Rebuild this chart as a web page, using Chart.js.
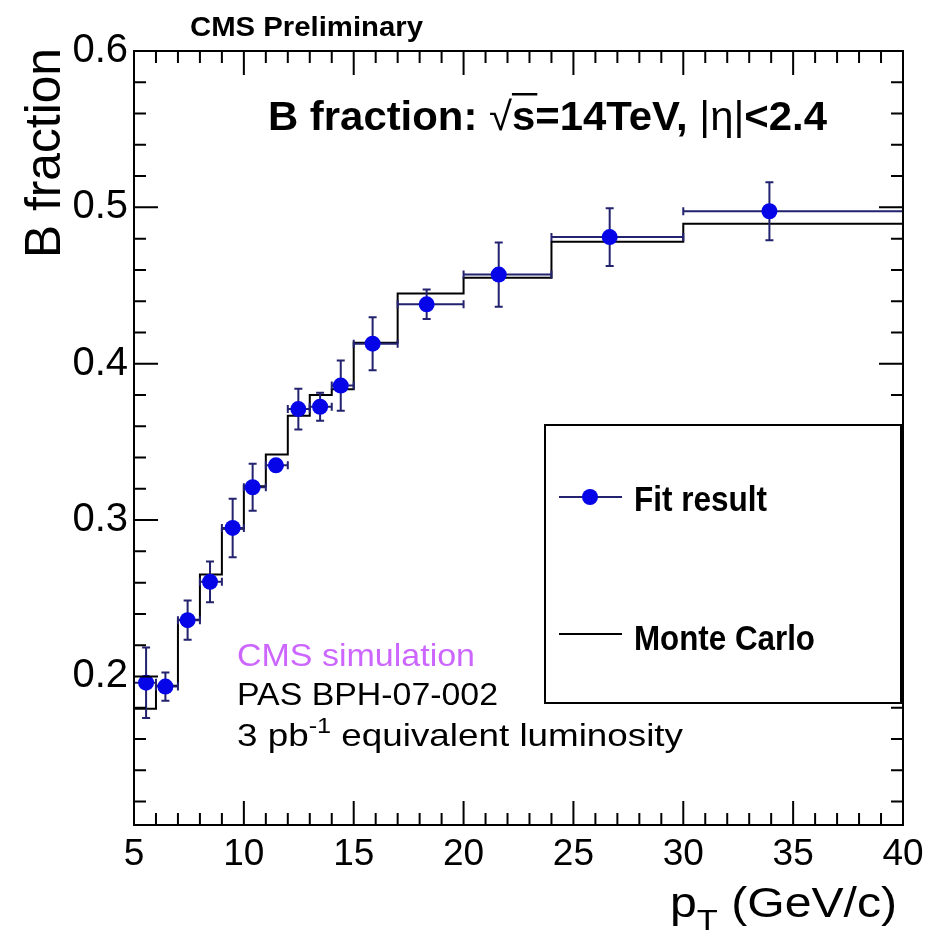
<!DOCTYPE html>
<html>
<head>
<meta charset="utf-8">
<script src="https://cdn.jsdelivr.net/npm/chart.js@4.4.1/dist/chart.umd.min.js"></script>
<style>
  html, body { margin: 0; padding: 0; background: #fff; }
  #plot { display: block; }
</style>
</head>
<body>
<canvas id="plot" width="937" height="940"></canvas>
<script>
// pT bin edges in GeV/c
const binEdges = [5, 6, 7, 8, 9, 10, 11, 12, 13, 14, 15, 17, 20, 24, 30, 40];
// fit result per bin: mean pT, B fraction, stat. error
const fitPt   = [5.55, 6.43, 7.44, 8.46, 9.49, 10.40, 11.46, 12.48, 13.47, 14.41, 15.86, 18.32, 21.60, 26.65, 33.92];
const fitFrac = [0.196, 0.1935, 0.236, 0.2605, 0.295, 0.321, 0.335, 0.371, 0.3725, 0.386, 0.4128, 0.438, 0.457, 0.481, 0.4975];
const fitErr  = [0.0225, 0.009, 0.0126, 0.013, 0.0187, 0.015, 0.003, 0.013, 0.009, 0.016, 0.017, 0.0094, 0.0205, 0.0185, 0.0185];
// Monte Carlo truth per bin
const mcFrac  = [0.1794, 0.194, 0.2362, 0.2652, 0.2944, 0.3216, 0.3419, 0.3668, 0.380, 0.3836, 0.4134, 0.4449, 0.455, 0.478, 0.4895];
const xTicks = [5, 10, 15, 20, 25, 30, 35, 40];
const yTicks = [0.2, 0.3, 0.4, 0.5, 0.6];

const FONT = "'Liberation Sans', Arial, Helvetica, sans-serif";
const BLUE = '#0505e8';
const NAVY = '#22226e';

const fitPoints = fitPt.map((x, i) => ({
    x: x, y: fitFrac[i], err: fitErr[i], xlo: binEdges[i], xhi: binEdges[i + 1]
}));
// histogram outline: one point per lower edge, plus the closing edge
const mcPoints = binEdges.map((x, i) => ({ x: x, y: mcFrac[Math.min(i, mcFrac.length - 1)] }));

// draw a sequence of text runs, squeezed/stretched to a given width
const drawRuns = (ctx, runs, x, y, width, rotate) => {
    let total = 0;
    runs.forEach((r) => {
        ctx.font = r.font;
        r.w = ctx.measureText(r.t).width;
        total += r.w;
    });
    const k = width ? width / total : 1;
    ctx.save();
    ctx.translate(x, y);
    if (rotate) ctx.rotate(-Math.PI / 2);
    ctx.scale(k, 1);
    ctx.textBaseline = 'alphabetic';
    ctx.textAlign = 'left';
    let cx = 0;
    runs.forEach((r) => {
        ctx.font = r.font;
        ctx.fillStyle = r.color || '#000';
        ctx.fillText(r.t, cx, r.dy || 0);
        if (r.over) {
            ctx.fillRect(cx, r.over, r.w + 2, 2.5);
        }
        cx += r.w;
    });
    ctx.restore();
};

const errorBars = {
    id: 'errorBars',
    beforeDatasetDraw(chart, args) {
        if (args.index !== 0) return;
        const { ctx, scales: { x, y } } = chart;
        ctx.save();
        ctx.strokeStyle = NAVY;
        ctx.lineWidth = 2;
        fitPoints.forEach((p) => {
            const px = x.getPixelForValue(p.x);
            const py = y.getPixelForValue(p.y);
            const lo = y.getPixelForValue(p.y - p.err);
            const hi = y.getPixelForValue(p.y + p.err);
            const l = x.getPixelForValue(p.xlo);
            const r = x.getPixelForValue(p.xhi);
            ctx.beginPath();
            ctx.moveTo(px, lo); ctx.lineTo(px, hi);
            ctx.moveTo(px - 4, lo); ctx.lineTo(px + 4, lo);
            ctx.moveTo(px - 4, hi); ctx.lineTo(px + 4, hi);
            ctx.moveTo(l, py); ctx.lineTo(r, py);
            ctx.moveTo(l, py - 4); ctx.lineTo(l, py + 4);
            ctx.moveTo(r, py - 4); ctx.lineTo(r, py + 4);
            ctx.stroke();
        });
        ctx.restore();
    }
};

const rootFrame = {
    id: 'rootFrame',
    afterDraw(chart) {
        const { ctx, chartArea: a, scales: { x, y } } = chart;
        ctx.save();
        ctx.strokeStyle = '#000';
        ctx.lineWidth = 2;
        ctx.strokeRect(a.left, a.top, a.right - a.left, a.bottom - a.top);

        // ticks on all four sides, pointing inwards
        ctx.beginPath();
        for (let v = x.min; v <= x.max; v += 1) {
            const len = xTicks.includes(v) ? 24 : 12;
            const px = x.getPixelForValue(v);
            ctx.moveTo(px, a.bottom); ctx.lineTo(px, a.bottom - len);
            ctx.moveTo(px, a.top); ctx.lineTo(px, a.top + len);
        }
        for (let k = Math.ceil(y.min / 0.02 - 1e-6); k * 0.02 <= y.max + 1e-6; k++) {
            const v = k * 0.02;
            const major = k % 5 === 0;
            const len = major ? 24 : 12;
            const py = y.getPixelForValue(v);
            ctx.moveTo(a.left, py); ctx.lineTo(a.left + len, py);
            ctx.moveTo(a.right, py); ctx.lineTo(a.right - len, py);
        }
        ctx.stroke();

        // axis titles
        drawRuns(ctx, [
            { t: 'p', font: '42px ' + FONT },
            { t: 'T', font: '30px ' + FONT, dy: 13 },
            { t: ' (GeV/c)', font: '42px ' + FONT }
        ], 670, 917, 227);
        drawRuns(ctx, [{ t: 'B fraction', font: '50px ' + FONT }], 60, 258, 210, true);

        // header and plot title
        drawRuns(ctx, [{ t: 'CMS Preliminary', font: 'bold 28px ' + FONT }], 190, 36, 233);
        drawRuns(ctx, [
            { t: 'B fraction: ', font: 'bold 40px ' + FONT },
            { t: '\u221A', font: '40px ' + FONT },
            { t: 's', font: 'bold 40px ' + FONT, over: -37 },
            { t: '=14TeV, ', font: 'bold 40px ' + FONT },
            { t: '|\u03B7|', font: '40px ' + FONT },
            { t: '<2.4', font: 'bold 40px ' + FONT }
        ], 268, 130, 559);

        // simulation notes
        drawRuns(ctx, [{ t: 'CMS simulation', font: '32px ' + FONT, color: '#cc66ff' }], 237, 666, 238);
        drawRuns(ctx, [{ t: 'PAS BPH-07-002', font: '32px ' + FONT }], 237, 705, 261);
        drawRuns(ctx, [
            { t: '3 pb', font: '32px ' + FONT },
            { t: '-1', font: '22px ' + FONT, dy: -13 },
            { t: ' equivalent luminosity', font: '32px ' + FONT }
        ], 237, 746, 446);

        // legend
        ctx.fillStyle = '#fff';
        ctx.fillRect(545, 425, 356, 278);
        ctx.strokeStyle = '#000';
        ctx.lineWidth = 2;
        ctx.strokeRect(545, 425, 356, 278);
        ctx.strokeStyle = NAVY;
        ctx.beginPath();
        ctx.moveTo(559, 497); ctx.lineTo(622, 497);
        ctx.stroke();
        ctx.fillStyle = BLUE;
        ctx.beginPath();
        ctx.arc(590, 497, 8, 0, Math.PI * 2);
        ctx.fill();
        ctx.strokeStyle = '#000';
        ctx.beginPath();
        ctx.moveTo(559, 634); ctx.lineTo(622, 634);
        ctx.stroke();
        drawRuns(ctx, [{ t: 'Fit result', font: 'bold 35px ' + FONT }], 634, 511, 133);
        drawRuns(ctx, [{ t: 'Monte Carlo', font: 'bold 35px ' + FONT }], 634, 650, 181);
        ctx.restore();
    }
};

const ctx = document.getElementById('plot').getContext('2d');
const chart = new Chart(ctx, {
    type: 'scatter',
    data: {
        datasets: [
            {
                label: 'Fit result',
                data: fitPoints,
                pointRadius: 8,
                pointBackgroundColor: BLUE,
                pointBorderWidth: 0,
                showLine: false
            },
            {
                type: 'line',
                label: 'Monte Carlo',
                data: mcPoints,
                stepped: true,
                borderColor: '#000',
                borderWidth: 2,
                pointRadius: 0,
                fill: false
            }
        ]
    },
    options: {
        responsive: false,
        animation: false,
        devicePixelRatio: 1,
        layout: { padding: { top: 51, right: 34, bottom: 55, left: 0 } },
        plugins: { legend: { display: false }, tooltip: { enabled: false } },
        scales: {
            x: {
                type: 'linear',
                min: 5,
                max: 40,
                afterBuildTicks: (s) => { s.ticks = xTicks.map((v) => ({ value: v })); },
                afterFit: (s) => { s.height = 60; s.paddingLeft = 0; s.paddingRight = 0; },
                grid: { display: false, drawTicks: false },
                border: { display: false },
                ticks: {
                    color: '#000',
                    padding: 8,
                    maxRotation: 0,
                    autoSkip: false,
                    font: { family: FONT, size: 37 },
                    callback: (v) => String(v)
                }
            },
            y: {
                type: 'linear',
                min: 0.105,
                max: 0.6,
                afterBuildTicks: (s) => { s.ticks = yTicks.map((v) => ({ value: v })); },
                afterFit: (s) => { s.width = 134; s.paddingTop = 0; s.paddingBottom = 0; },
                grid: { display: false, drawTicks: false },
                border: { display: false },
                ticks: {
                    color: '#000',
                    padding: 6,
                    autoSkip: false,
                    font: { family: FONT, size: 40 },
                    callback: (v) => v.toFixed(1)
                }
            }
        }
    },
    plugins: [errorBars, rootFrame]
});
</script>
</body>
</html>
